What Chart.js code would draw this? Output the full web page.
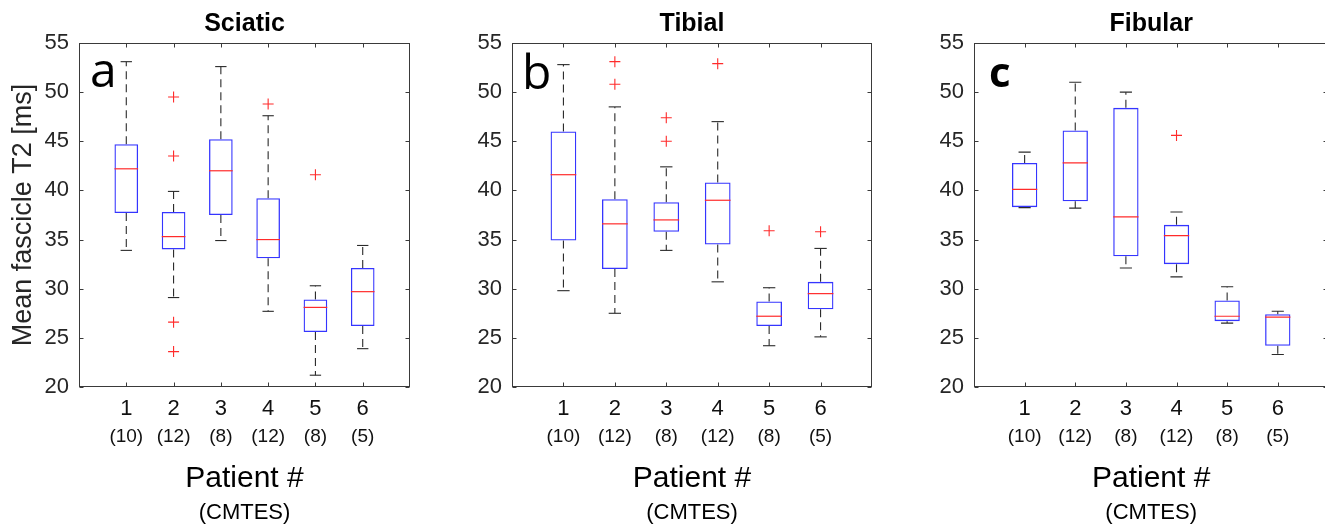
<!DOCTYPE html>
<html>
<head>
<meta charset="utf-8">
<script src="https://cdn.jsdelivr.net/npm/chart.js@4.4.1/dist/chart.umd.min.js"></script>
<style>
html,body{margin:0;padding:0;background:#fff;overflow:hidden;width:1325px;height:527px;position:relative;}
canvas{position:absolute;top:0;}
</style>
</head>
<body>
<canvas id="ca" width="430" height="527" style="left:0px"></canvas>
<canvas id="cb" width="460" height="527" style="left:433px"></canvas>
<canvas id="cc" width="440" height="527" style="left:895px"></canvas>
<script>
// ---------- data ----------
const patients = [1, 2, 3, 4, 5, 6];
const patientLabels = ['1', '2', '3', '4', '5', '6'];
const counts = ['(10)', '(12)', '(8)', '(12)', '(8)', '(5)'];
const yTicks = [20, 25, 30, 35, 40, 45, 50, 55];

// Sciatic
const sciaticQ1  = [37.7, 34.0, 37.5, 33.1, 25.6, 26.2];
const sciaticMed = [42.2, 35.3, 42.0, 35.0, 28.1, 29.7];
const sciaticQ3  = [44.7, 37.8, 45.2, 39.2, 28.9, 32.1];
const sciaticLo  = [33.9, 29.1, 34.9, 27.7, 21.2, 23.9];
const sciaticHi  = [53.1, 39.9, 52.6, 47.6, 30.3, 34.4];
const sciaticOut = [[], [49.5, 43.5, 26.6, 23.6], [], [48.8], [41.6], []];

// Tibial
const tibialQ1  = [34.9, 32.0, 35.8, 34.5, 26.2, 27.9];
const tibialMed = [41.6, 36.6, 37.0, 39.0, 27.2, 29.5];
const tibialQ3  = [46.0, 39.1, 38.8, 40.8, 28.7, 30.7];
const tibialLo  = [29.8, 27.5, 33.9, 30.7, 24.2, 25.1];
const tibialHi  = [52.8, 48.5, 42.4, 47.0, 30.1, 34.1];
const tibialOut = [[], [53.1, 50.8], [47.4, 45.0], [52.9], [35.9], [35.8]];

// Fibular
const fibularQ1  = [38.3, 38.9, 33.3, 32.5, 26.7, 24.2];
const fibularMed = [40.1, 42.8, 37.3, 35.4, 27.2, 27.1];
const fibularQ3  = [42.8, 46.1, 48.4, 36.5, 28.8, 27.4];
const fibularLo  = [38.25, 38.2, 32.1, 31.2, 26.5, 23.3];
const fibularHi  = [43.9, 51.0, 50.0, 37.8, 30.2, 27.7];
const fibularOut = [[], [], [], [45.6], [], []];

// ---------- rendering ----------
const FONT = "'Liberation Sans', Arial, Helvetica, sans-serif";
Chart.defaults.font.family = FONT;
Chart.defaults.color = '#262626';

const unitPx = c => {
  const s = c.chart.scales.x;
  return Math.abs(s.getPixelForValue(1) - s.getPixelForValue(0));
};

const framePlugin = {
  id: 'frame',
  afterDatasetsDraw(chart, args, o) {
    const {ctx, chartArea: a, scales: {x, y}} = chart;
    ctx.save();
    ctx.strokeStyle = '#3a3a3a';
    ctx.lineWidth = 1;
    const L = Math.round(a.left) + 0.5, R = Math.round(a.right) - 0.5;
    const T = Math.round(a.top) + 0.5, B = Math.round(a.bottom) - 0.5;
    ctx.strokeRect(L, T, R - L, B - T);
    ctx.beginPath();
    patients.forEach(p => {
      const px = Math.round(x.getPixelForValue(p)) + 0.5;
      ctx.moveTo(px, B); ctx.lineTo(px, B - 4);
      ctx.moveTo(px, T); ctx.lineTo(px, T + 4);
    });
    yTicks.forEach(v => {
      const py = Math.round(y.getPixelForValue(v)) + 0.5;
      ctx.moveTo(L, py); ctx.lineTo(L + 4, py);
      ctx.moveTo(R, py); ctx.lineTo(R - 4, py);
    });
    ctx.stroke();
    ctx.font = o.letterFont;
    ctx.fillStyle = '#000';
    ctx.textAlign = 'left';
    ctx.textBaseline = 'alphabetic';
    ctx.fillText(o.letter, a.left + o.lx, a.top + o.ly);
    ctx.restore();
  }
};

function hiddenAxis(extra) {
  return Object.assign({
    type: 'linear', min: 0, max: 7, offset: false,
    grid: {display: false, drawTicks: false, offset: false},
    border: {display: false}
  }, extra);
}

function build(id, title, letter, letterOpts, yTitle, q1, med, q3, lo, hi, out, padRight) {
  const boxData = patients.map((p, i) => ({x: p, y: [q1[i], q3[i]]}));
  const whisk = [];
  patients.forEach((p, i) => {
    whisk.push({x: p, y: q3[i]}, {x: p, y: hi[i]}, {x: p, y: null},
               {x: p, y: q1[i]}, {x: p, y: lo[i]}, {x: p, y: null});
  });
  const caps = [];
  patients.forEach((p, i) => { caps.push({x: p, y: hi[i]}, {x: p, y: lo[i]}); });
  const meds = patients.map((p, i) => ({x: p, y: med[i]}));
  const outs = [];
  patients.forEach((p, i) => out[i].forEach(v => outs.push({x: p, y: v})));

  new Chart(document.getElementById(id), {
    type: 'bar',
    data: {
      datasets: [
        {type: 'scatter', data: meds, pointStyle: 'line', pointRadius: c => unitPx(c) * 0.25,
         pointBorderColor: '#ff2b2b', pointBorderWidth: 1.2, order: 0},
        {type: 'scatter', data: outs, pointStyle: 'cross', pointRadius: 5.5,
         pointBorderColor: '#ff2b2b', pointBorderWidth: 1.1, order: 1},
        {type: 'scatter', data: caps, pointStyle: 'line', pointRadius: c => unitPx(c) * 0.12,
         pointBorderColor: '#2a2a2a', pointBorderWidth: 1.1, order: 2},
        {type: 'bar', data: boxData, backgroundColor: 'rgba(0,0,0,0)', borderColor: '#3535ff',
         borderWidth: 1.3, borderSkipped: false, barPercentage: 0.5, categoryPercentage: 1, order: 3},
        {type: 'line', data: whisk, borderColor: '#2a2a2a', borderWidth: 1.1, borderDash: [8, 5],
         pointRadius: 0, spanGaps: false, fill: false, order: 4}
      ]
    },
    plugins: [framePlugin],
    options: {
      responsive: false,
      animation: false,
      events: [],
      layout: {padding: {left: 0, right: padRight, top: 0, bottom: 0}},
      plugins: {
        legend: {display: false},
        tooltip: {enabled: false},
        title: {display: false},
        frame: Object.assign({letter: letter}, letterOpts)
      },
      scales: {
        x: hiddenAxis({
          position: 'bottom', weight: 0,
          afterBuildTicks: s => { s.ticks = patients.map(v => ({value: v})); },
          afterFit: s => { s.height = 36; },
          ticks: {autoSkip: false, maxRotation: 0, padding: 9, font: {size: 22}, color: '#111',
                  callback: v => patientLabels[patients.indexOf(v)]}
        }),
        x2: hiddenAxis({
          position: 'bottom', weight: 1,
          afterBuildTicks: s => { s.ticks = patients.map(v => ({value: v})); },
          afterFit: s => { s.height = 80; },
          ticks: {autoSkip: false, maxRotation: 0, padding: 2, font: {size: 19}, color: '#111',
                  callback: v => counts[patients.indexOf(v)]},
          title: {display: true, text: 'Patient #', font: {size: 30}, color: '#000',
                  padding: {top: 0, bottom: 6}}
        }),
        x3: hiddenAxis({
          position: 'bottom', weight: 2,
          afterFit: s => { s.height = 24; },
          ticks: {display: false},
          title: {display: true, text: '(CMTES)', font: {size: 22}, color: '#000',
                  padding: {top: 0, bottom: 1}}
        }),
        xt: hiddenAxis({
          position: 'top',
          afterFit: s => { s.height = 43; },
          ticks: {display: false},
          title: {display: true, text: title, font: {size: 25, weight: 'bold'}, color: '#000',
                  padding: {top: 9, bottom: 0}}
        }),
        y: {
          type: 'linear', position: 'left', min: 20, max: 55,
          afterBuildTicks: s => { s.ticks = yTicks.map(v => ({value: v})); },
          afterFit: s => { s.width = 79; },
          ticks: {font: {size: 22}, padding: 10, color: '#262626'},
          grid: {display: false, drawTicks: false},
          border: {display: false},
          title: {display: !!yTitle, text: yTitle || '', font: {size: 27}, color: '#262626',
                  padding: {top: 7, bottom: 0}}
        }
      }
    }
  });
}

build('ca', 'Sciatic', 'a', {letterFont: "48px 'Open Sans', sans-serif", lx: 11, ly: 44},
      'Mean fascicle T2 [ms]', sciaticQ1, sciaticMed, sciaticQ3, sciaticLo, sciaticHi, sciaticOut, 20);
build('cb', 'Tibial', 'b', {letterFont: "48px 'Open Sans', sans-serif", lx: 10, ly: 46},
      null, tibialQ1, tibialMed, tibialQ3, tibialLo, tibialHi, tibialOut, 21);
build('cc', 'Fibular', 'c', {letterFont: "bold 42px 'Open Sans', sans-serif", lx: 15, ly: 44},
      null, fibularQ1, fibularMed, fibularQ3, fibularLo, fibularHi, fibularOut, 4);
</script>
</body>
</html>
